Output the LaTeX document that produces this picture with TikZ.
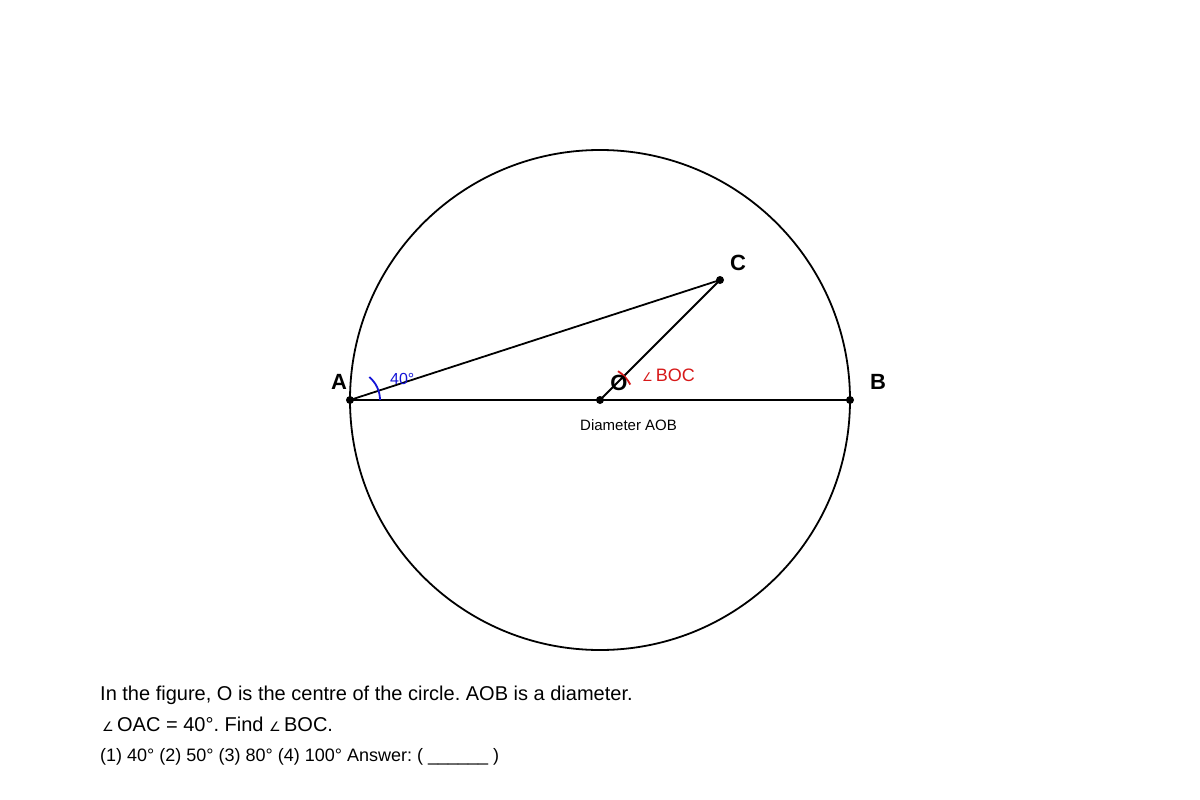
\documentclass[tikz,border=0pt]{standalone}
\usepackage{fontspec}
\setmainfont{Liberation Sans}
\newfontfamily\symfont{DejaVu Sans}
\newcommand{\angsym}[1]{{\symfont\fontsize{#1}{#1}\selectfont ∠}}
\definecolor{myred}{RGB}{215,25,25}
\definecolor{myblue}{RGB}{20,20,215}
\frenchspacing
\begin{document}
\begin{tikzpicture}[x=1pt,y=-1pt,
  ptlabel/.style={font=\fontsize{22}{26}\selectfont\bfseries, anchor=base, inner sep=0pt},
  dot/.style={circle, fill=black, inner sep=0pt, minimum size=8pt},
  txt/.style={anchor=base west, inner sep=0pt},
  geom/.style={line width=1.8pt, black}]
\useasboundingbox (0,0) rectangle (1200,800);
\fill[white] (0,0) rectangle (1200,800);
\coordinate (O) at (600,400);
\coordinate (A) at (350,400);
\coordinate (B) at (850,400);
\coordinate (C) at (720,280);
\draw[geom] (O) circle[radius=250];
\draw[geom] (A) -- (B);
\draw[geom] (A) -- (C);
\draw[geom] (O) -- (C);
% angle marks
\draw[myblue, line width=1.8pt] ([shift={(0:30)}]A) arc[start angle=0, end angle=-50, radius=30];
\draw[myred, line width=1.8pt] ([shift={(-27:34)}]O) arc[start angle=-27, end angle=-58, radius=34];
\node[dot] (dA) at (A) {};
\node[dot] (dB) at (B) {};
\node[dot] (dC) at (C) {};
\node[dot] (dO) at (O) {};
\node[ptlabel] (lA) at (339,389) {A};
\node[ptlabel] (lB) at (878,389) {B};
\node[ptlabel] (lC) at (738,270) {C};
\node[ptlabel] (lO) at (619,390) {O};
\node[txt, myblue, font=\fontsize{16}{19}\selectfont] (l40) at (390,384.5) {40°};
\node[txt, myred, font=\fontsize{18}{21}\selectfont] (lboc) at (642,381) {\angsym{12}\,BOC};
\node[txt, font=\fontsize{15}{18}\selectfont] (ldiam) at (580,430) {Diameter AOB};
\node[txt, font=\fontsize{20}{24}\selectfont] (t1) at (100,700) {In the figure, O is the centre of the circle. AOB is a diameter.};
\node[txt, font=\fontsize{20}{24}\selectfont] (t2) at (102,731) {\angsym{13}\,OAC = 40°. Find \angsym{13}\,BOC.};
\node[txt, font=\fontsize{18}{22}\selectfont] (t3) at (100,761) {(1) 40° (2) 50° (3) 80° (4) 100° Answer: ( \_\_\_\_\_\_ )};
\end{tikzpicture}
\end{document}
